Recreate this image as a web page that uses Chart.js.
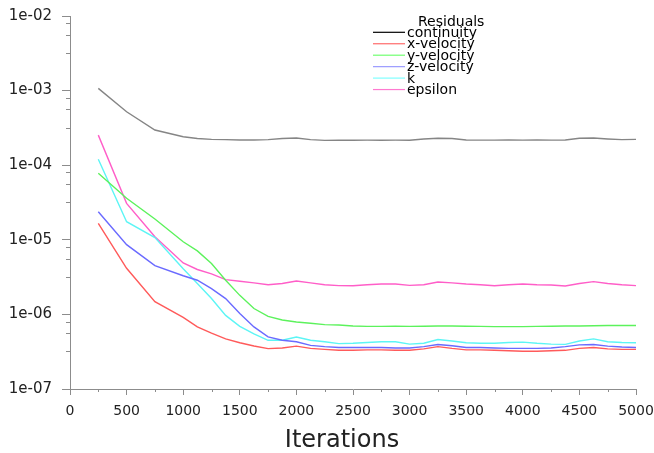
<!DOCTYPE html>
<html>
<head>
<meta charset="utf-8">
<script src="https://cdn.jsdelivr.net/npm/chart.js@4.4.1/dist/chart.umd.min.js"></script>
<style>
  html, body { margin: 0; padding: 0; background: #ffffff; }
  #wrap { width: 654px; height: 453px; }
</style>
</head>
<body>
<div id="wrap"><canvas id="c"></canvas></div>
<script>
const iterations = [250, 500, 750, 1000, 1125, 1250, 1375, 1500, 1625, 1750, 1875, 2000, 2125, 2250, 2375, 2500, 2625, 2750, 2875, 3000, 3125, 3250, 3375, 3500, 3625, 3750, 3875, 4000, 4125, 4250, 4375, 4500, 4625, 4750, 4875, 5000];

const continuity = [1.07e-3, 5.2e-4, 2.96e-4, 2.41e-4, 2.28e-4, 2.22e-4, 2.2e-4, 2.18e-4, 2.18e-4, 2.2e-4, 2.28e-4, 2.32e-4, 2.2e-4, 2.15e-4, 2.16e-4, 2.16e-4, 2.17e-4, 2.16e-4, 2.17e-4, 2.16e-4, 2.24e-4, 2.3e-4, 2.28e-4, 2.18e-4, 2.17e-4, 2.17e-4, 2.18e-4, 2.17e-4, 2.18e-4, 2.17e-4, 2.18e-4, 2.3e-4, 2.32e-4, 2.25e-4, 2.2e-4, 2.22e-4];
const xVelocity = [1.66e-5, 4.15e-6, 1.48e-6, 9.1e-7, 6.8e-7, 5.6e-7, 4.7e-7, 4.17e-7, 3.77e-7, 3.48e-7, 3.55e-7, 3.75e-7, 3.5e-7, 3.4e-7, 3.3e-7, 3.3e-7, 3.35e-7, 3.35e-7, 3.3e-7, 3.3e-7, 3.45e-7, 3.7e-7, 3.5e-7, 3.35e-7, 3.35e-7, 3.3e-7, 3.25e-7, 3.2e-7, 3.2e-7, 3.25e-7, 3.3e-7, 3.5e-7, 3.6e-7, 3.45e-7, 3.4e-7, 3.4e-7];
const yVelocity = [7.8e-5, 3.6e-5, 1.9e-5, 9.4e-6, 7.1e-6, 4.8e-6, 2.87e-6, 1.8e-6, 1.2e-6, 9.4e-7, 8.4e-7, 7.9e-7, 7.6e-7, 7.3e-7, 7.2e-7, 7.0e-7, 6.9e-7, 6.9e-7, 6.95e-7, 6.9e-7, 6.95e-7, 7.0e-7, 7.0e-7, 6.95e-7, 6.9e-7, 6.85e-7, 6.85e-7, 6.85e-7, 6.9e-7, 6.95e-7, 7.0e-7, 7.0e-7, 7.05e-7, 7.1e-7, 7.1e-7, 7.1e-7];
const zVelocity = [2.38e-5, 8.6e-6, 4.5e-6, 3.3e-6, 2.87e-6, 2.22e-6, 1.63e-6, 1.03e-6, 6.8e-7, 5.0e-7, 4.5e-7, 4.3e-7, 3.85e-7, 3.7e-7, 3.6e-7, 3.6e-7, 3.6e-7, 3.6e-7, 3.55e-7, 3.55e-7, 3.7e-7, 3.95e-7, 3.8e-7, 3.6e-7, 3.6e-7, 3.55e-7, 3.5e-7, 3.5e-7, 3.5e-7, 3.55e-7, 3.7e-7, 3.9e-7, 3.95e-7, 3.75e-7, 3.65e-7, 3.6e-7];
const kValues = [1.2e-4, 1.75e-5, 1.07e-5, 4.1e-6, 2.6e-6, 1.63e-6, 9.7e-7, 6.9e-7, 5.5e-7, 4.5e-7, 4.5e-7, 4.98e-7, 4.5e-7, 4.3e-7, 4.06e-7, 4.1e-7, 4.2e-7, 4.3e-7, 4.3e-7, 4.0e-7, 4.1e-7, 4.6e-7, 4.4e-7, 4.17e-7, 4.1e-7, 4.1e-7, 4.2e-7, 4.25e-7, 4.1e-7, 4.0e-7, 3.96e-7, 4.4e-7, 4.7e-7, 4.3e-7, 4.2e-7, 4.17e-7];
const epsilon = [2.53e-4, 3.08e-5, 1.1e-5, 4.9e-6, 4.0e-6, 3.5e-6, 2.92e-6, 2.78e-6, 2.65e-6, 2.5e-6, 2.6e-6, 2.8e-6, 2.65e-6, 2.5e-6, 2.43e-6, 2.42e-6, 2.5e-6, 2.55e-6, 2.55e-6, 2.45e-6, 2.5e-6, 2.72e-6, 2.65e-6, 2.55e-6, 2.5e-6, 2.42e-6, 2.5e-6, 2.55e-6, 2.5e-6, 2.48e-6, 2.4e-6, 2.6e-6, 2.75e-6, 2.6e-6, 2.5e-6, 2.43e-6];

const seriesLabels = ['continuity', 'x-velocity', 'y-velocity', 'z-velocity', 'k', 'epsilon'];
const legendTitle = 'Residuals';
const xTitle = 'Iterations';
const yExponents = [-7, -6, -5, -4, -3, -2];
const yMinorMultipliers = [8, 5.6, 3.2];
const xMinorTicks = [250, 750, 1250, 1750, 2250, 2750, 3250, 3750, 4250, 4750];

const lineColors = ['#858585', '#ff5a5a', '#5cf25c', '#6a6aff', '#5cf5f5', '#ff5ec8'];
const legendColors = ['#000000', '#ff6a6a', '#70ff70', '#9a9aff', '#80ffff', '#ff7ad0'];
const seriesValues = [continuity, xVelocity, yVelocity, zVelocity, kValues, epsilon];

const AXIS = '#8c8c8c';
const FONT = 'DejaVu Sans';

const datasets = seriesValues.map((vals, i) => ({
  label: seriesLabels[i],
  data: iterations.map((it, j) => ({ x: it, y: vals[j] })),
  borderColor: lineColors[i],
  backgroundColor: lineColors[i],
  borderWidth: 1.4,
  pointRadius: 0,
  tension: 0,
  fill: false
}));

function fmtExp(v) {
  const e = Math.round(Math.log10(v));
  const a = Math.abs(e);
  return '1e' + (e < 0 ? '-' : '+') + (a < 10 ? '0' : '') + a;
}

const minorTicksPlugin = {
  id: 'minorTicks',
  afterDraw(chart) {
    const ctx = chart.ctx;
    const ys = chart.scales.y, xs = chart.scales.x;
    ctx.save();
    ctx.strokeStyle = AXIS;
    ctx.lineWidth = 1;
    ctx.beginPath();
    for (let e = yExponents[0]; e < yExponents[yExponents.length - 1]; e++) {
      yMinorMultipliers.forEach(m => {
        const py = Math.round(ys.getPixelForValue(m * Math.pow(10, e))) + 0.5;
        ctx.moveTo(ys.right - 4, py);
        ctx.lineTo(ys.right, py);
      });
    }
    xMinorTicks.forEach(v => {
      const px = Math.round(xs.getPixelForValue(v)) + 0.5;
      ctx.moveTo(px, xs.top);
      ctx.lineTo(px, xs.top + 3);
    });
    ctx.stroke();
    ctx.font = '24px "' + FONT + '"';
    ctx.fillStyle = '#222';
    ctx.textAlign = 'center';
    ctx.textBaseline = 'alphabetic';
    ctx.fillText(xTitle, 342, 447);
    ctx.restore();
  }
};

const legendPlugin = {
  id: 'residualLegend',
  afterDatasetsDraw(chart) {
    const ctx = chart.ctx;
    ctx.save();
    ctx.font = '14px "' + FONT + '"';
    ctx.fillStyle = '#000';
    ctx.textBaseline = 'alphabetic';
    ctx.textAlign = 'left';
    ctx.fillText(legendTitle, 418, 26);
    seriesLabels.forEach((lab, i) => {
      const y = 32.3 + i * 11.45;
      ctx.strokeStyle = legendColors[i];
      ctx.lineWidth = 1.2;
      ctx.beginPath();
      ctx.moveTo(373, y);
      ctx.lineTo(405, y);
      ctx.stroke();
      ctx.fillStyle = '#000';
      ctx.fillText(lab, 407, y + 4.6);
    });
    ctx.restore();
  }
};

new Chart(document.getElementById('c'), {
  type: 'line',
  data: { datasets },
  options: {
    responsive: true,
    maintainAspectRatio: false,
    animation: false,
    layout: { padding: { top: 16, right: 18, left: 0, bottom: 0 } },
    plugins: {
      legend: { display: false },
      tooltip: { enabled: false }
    },
    scales: {
      x: {
        type: 'linear',
        min: 0,
        max: 5000,
        afterFit(s) { s.height = 64; s.paddingLeft = 0; s.paddingRight = 0; },
        grid: { drawOnChartArea: false, drawTicks: true, tickLength: 6, color: AXIS, tickColor: AXIS },
        border: { display: true, color: AXIS },
        ticks: { stepSize: 500, padding: 8, color: '#222', font: { family: FONT, size: 14 }, maxRotation: 0, callback: v => String(v) },
        title: { display: false }
      },
      y: {
        type: 'logarithmic',
        min: 1e-7,
        max: 1e-2,
        afterFit(s) { s.width = 70; s.paddingTop = 0; s.paddingBottom = 0; },
        afterBuildTicks(s) { s.ticks = yExponents.map(e => ({ value: Math.pow(10, e) })); },
        grid: { drawOnChartArea: false, drawTicks: true, tickLength: 8, color: AXIS, tickColor: AXIS },
        border: { display: true, color: AXIS },
        ticks: { padding: 10, color: '#222', font: { family: FONT, size: 15 }, callback: v => fmtExp(v) }
      }
    }
  },
  plugins: [minorTicksPlugin, legendPlugin]
});
</script>
</body>
</html>
